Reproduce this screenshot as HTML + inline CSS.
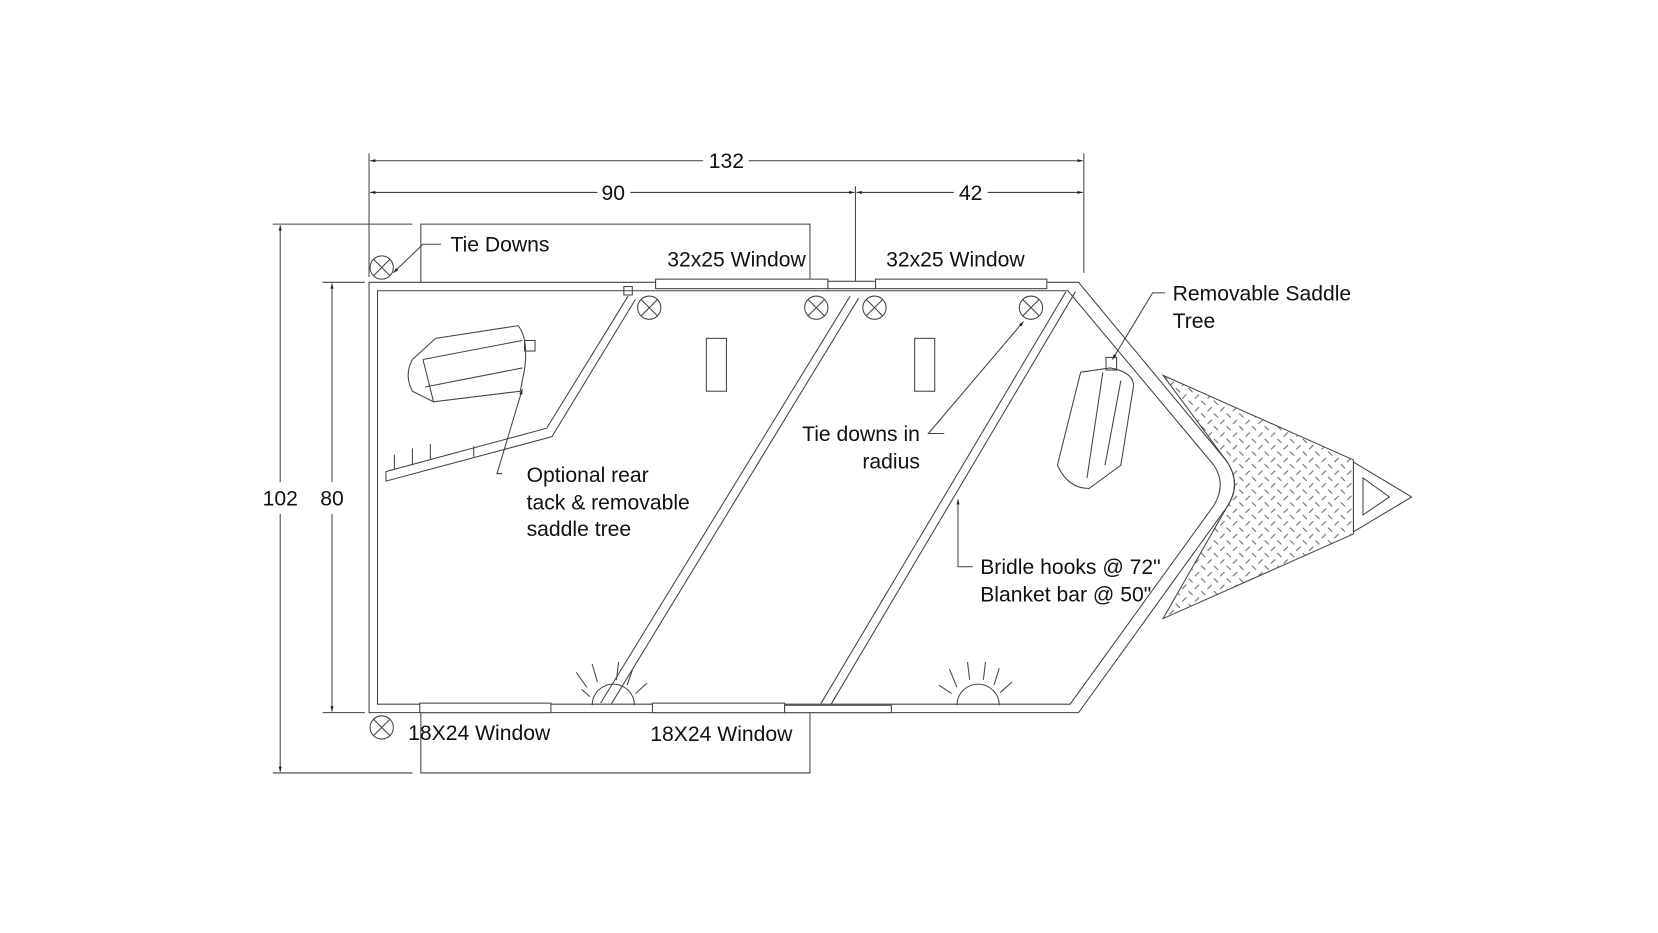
<!DOCTYPE html>
<html><head><meta charset="utf-8"><style>
html,body{margin:0;padding:0;background:#fff;}
svg{display:block;}
text{font-family:"Liberation Sans",Arial,sans-serif;font-size:20px;fill:#111;}
</style></head><body>
<svg width="1658" height="933" viewBox="0 0 1568 882.4" preserveAspectRatio="none" xmlns="http://www.w3.org/2000/svg">
<defs>
<pattern id="dp" width="12" height="12" patternUnits="userSpaceOnUse">
<line x1="2" y1="5" x2="6" y2="1" stroke="#666" stroke-width="1"/>
<line x1="8" y1="7" x2="12" y2="11" stroke="#666" stroke-width="1"/>
</pattern>
<marker id="ar" viewBox="0 0 10 10" refX="10" refY="5" markerWidth="7" markerHeight="5" orient="auto-start-reverse"><path d="M0,2 L10,5 L0,8z" fill="#222"/></marker>
<g id="td" fill="none" stroke="#444" stroke-width="1"><circle cx="0" cy="0" r="11"/><line x1="-8" y1="-8" x2="8" y2="8"/><line x1="-8" y1="8" x2="8" y2="-8"/></g>
</defs>
<g fill="none" stroke="#444" stroke-width="1">
<line x1="349" y1="145" x2="349" y2="262"/>
<line x1="1025" y1="145" x2="1025" y2="258"/>
<line x1="809" y1="176" x2="809" y2="268"/>
<line x1="350" y1="152" x2="665" y2="152" marker-start="url(#ar)"/>
<line x1="708" y1="152" x2="1024" y2="152" marker-end="url(#ar)"/>
<line x1="350" y1="182" x2="565" y2="182" marker-start="url(#ar)"/>
<line x1="596" y1="182" x2="808" y2="182" marker-end="url(#ar)"/>
<line x1="810" y1="182" x2="902" y2="182" marker-start="url(#ar)"/>
<line x1="934" y1="182" x2="1024" y2="182" marker-end="url(#ar)"/>
<line x1="258" y1="212" x2="390" y2="212"/>
<line x1="258" y1="731" x2="390" y2="731"/>
<line x1="265" y1="213" x2="265" y2="456" marker-start="url(#ar)"/>
<line x1="265" y1="486" x2="265" y2="730" marker-end="url(#ar)"/>
<line x1="305" y1="267" x2="345" y2="267"/>
<line x1="305" y1="674" x2="345" y2="674"/>
<line x1="314" y1="268" x2="314" y2="456" marker-start="url(#ar)"/>
<line x1="314" y1="486" x2="314" y2="673" marker-end="url(#ar)"/>
<polyline points="398,267 398,212 766,212 766,267"/>
<polyline points="398,674 398,731 766,731 766,674"/>
<path d="M1020,267 L349,267 L349,674 L1020,674 L1160,480 Q1175,458 1160,436 Z"/>
<path d="M1010,275 L357,275 L357,666 L1012,666 L1148,478 Q1160,458 1148,440 Z"/>
<rect x="620" y="264" width="163" height="9" fill="#fff"/>
<rect x="828" y="264" width="162" height="9" fill="#fff"/>
<rect x="783" y="266" width="45" height="7" fill="#fff"/>
<rect x="397" y="665" width="124" height="9" fill="#fff"/>
<rect x="617" y="665" width="125" height="9" fill="#fff"/>
<rect x="742" y="667" width="101" height="7" fill="#fff"/>
<path d="M1100,355 L1280,435 L1280,505 L1100,585 L1160,480 Q1175,458 1160,436 Z" fill="url(#dp)"/>
<path d="M1280,437 L1335,470 L1280,503 Z"/>
<path d="M1289,452 L1314,470 L1289,487 Z"/>
<path d="M594,280 L517,405 L365,446 L365,455 L522,413 L601,283"/>
<rect x="590" y="271" width="8" height="8"/>
<path d="M804,280 L568,665 M812,282 L578,666"/>
<path d="M1008,276 L776,666 M1017,276 L786,666"/>
<path d="M373,444 L373,430 M390,440 L390,424 M407,435 L407,420 M448,432 L448,422"/>
<rect x="668" y="320" width="19" height="50"/>
<rect x="865" y="320" width="19" height="50"/>
<path d="M560,667 A20,20 0 0 1 600,667"/>
<path d="M905,667 A20,20 0 0 1 945,667"/>
<path d="M545,636 L555,650 M560,628 L565,645 M585,626 L583,643 M598,634 L593,648 M612,646 L601,656 M550,652 L558,659"/>
<path d="M888,648 L900,656 M898,633 L905,650 M915,626 L917,643 M932,626 L930,643 M945,632 L940,648 M957,645 L946,655"/>
<path d="M390,340 L412,320 L490,308 Q500,320 496,350 L492,370 L410,380 L390,370 Q382,355 390,340 Z"/>
<path d="M400,340 L494,322 M402,366 L494,348 M400,340 L410,380"/>
<rect x="496" y="322" width="10" height="10"/>
<path d="M1022,352 L1050,348 Q1072,352 1072,365 L1060,440 L1030,462 Q1010,462 1000,440 L1010,400 Z"/>
<path d="M1043,352 L1028,452 M1060,360 L1045,440"/>
<rect x="1046" y="338" width="10" height="12"/>
<polyline points="417,231 400,231 372,258" marker-end="url(#ar)"/>
<polyline points="475,448 470,448 494,368" marker-end="url(#ar)"/>
<polyline points="893,410 878,410 968,304" marker-end="url(#ar)"/>
<polyline points="920,536 906,536 906,472" marker-end="url(#ar)"/>
<polyline points="1102,277 1090,277 1052,340" marker-end="url(#ar)"/>
</g>
<use href="#td" x="361" y="253"/>
<use href="#td" x="361" y="688"/>
<use href="#td" x="614" y="291"/>
<use href="#td" x="772" y="291"/>
<use href="#td" x="827" y="291"/>
<use href="#td" x="975" y="291"/>
<text x="687" y="159" text-anchor="middle">132</text>
<text x="580" y="189" text-anchor="middle">90</text>
<text x="918" y="189" text-anchor="middle">42</text>
<text x="265" y="478" text-anchor="middle">102</text>
<text x="314" y="478" text-anchor="middle">80</text>
<text x="426" y="238">Tie Downs</text>
<text x="631" y="252">32x25 Window</text>
<text x="838" y="252">32x25 Window</text>
<text x="1109" y="284">Removable Saddle</text>
<text x="1109" y="310">Tree</text>
<text x="870" y="417" text-anchor="end">Tie downs in</text>
<text x="870" y="443" text-anchor="end">radius</text>
<text x="498" y="456">Optional rear</text>
<text x="498" y="482">tack &amp; removable</text>
<text x="498" y="507">saddle tree</text>
<text x="927" y="543">Bridle hooks @ 72"</text>
<text x="927" y="569">Blanket bar @ 50"</text>
<text x="386" y="700">18X24 Window</text>
<text x="615" y="701">18X24 Window</text>
</svg>
</body></html>
